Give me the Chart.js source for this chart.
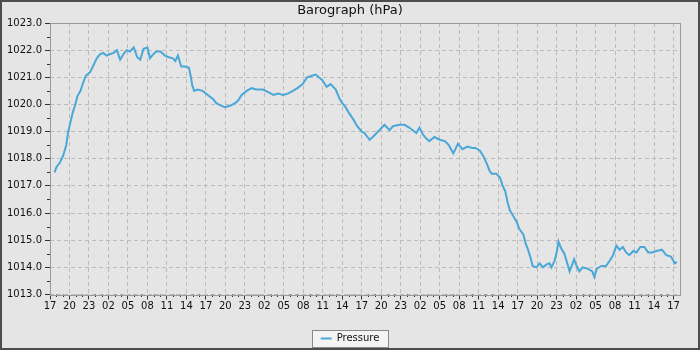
<!DOCTYPE html>
<html>
<head>
<meta charset="utf-8">
<title>Barograph</title>
<script src="https://cdn.jsdelivr.net/npm/chart.js@4.4.1/dist/chart.umd.min.js"></script>
<style>
    html, body { margin: 0; padding: 0; background: #e5e5e5; }
    #grafico { display: block; }
</style>
</head>
<body>
<canvas id="grafico" width="700" height="350"></canvas>
<script>
// hours since 17:00 on the first day
const hours = [
    0.7, 1.0, 1.5, 2.0, 2.5, 2.8, 3.1, 3.5, 3.9, 4.2, 4.7, 5.1, 5.5, 6.2, 6.7, 7.2, 7.7, 8.2, 8.7, 9.2,
    9.8, 10.3, 10.8, 11.3, 11.8, 12.3, 12.9, 13.4, 13.9, 14.4, 15.0, 15.4, 15.9, 16.4, 17.0, 17.7, 18.2, 18.9, 19.3, 19.7,
    20.2, 20.8, 21.4, 21.7, 21.9, 22.2, 22.7, 23.5, 24.3, 25.1, 25.6, 26.4, 26.9, 27.7, 28.5, 29.0, 29.5, 30.3, 31.0, 31.8,
    32.8, 33.6, 34.4, 35.1, 35.9, 36.6, 37.4, 38.1, 38.9, 39.6, 40.2, 40.9, 41.4, 41.9, 42.6, 43.2, 44.0, 44.6, 45.0, 45.5,
    46.0, 46.7, 47.3, 48.0, 48.4, 48.9, 49.2, 49.7, 50.5, 51.5, 52.3, 52.8, 53.8, 54.6, 55.3, 56.4, 56.9, 57.4, 57.9, 58.4,
    59.2, 60.0, 60.8, 61.4, 62.1, 62.8, 63.5, 64.3, 65.0, 65.5, 66.2, 66.7, 67.2, 67.7, 68.0, 68.7, 69.3, 69.7, 70.1, 70.5,
    70.8, 71.3, 71.8, 72.3, 72.9, 73.2, 73.6, 74.0, 74.3, 74.9, 75.4, 75.9, 76.4, 76.9, 77.2, 77.7, 78.1, 78.3, 78.7, 79.2,
    79.7, 80.0, 80.4, 80.7, 81.0, 81.5, 82.0, 82.8, 83.5, 83.8, 84.2, 84.9, 85.6, 86.2, 86.7, 87.2, 87.7, 88.2, 88.7, 89.2,
    89.8, 90.3, 90.9, 91.5, 92.1, 92.7, 93.4, 94.2, 94.9, 95.6, 96.2, 96.5
];

const pressure = [
    1017.5, 1017.7, 1017.85, 1018.1, 1018.5, 1019.0, 1019.3, 1019.7, 1020.0, 1020.3, 1020.5, 1020.8, 1021.05, 1021.2, 1021.45, 1021.7, 1021.85, 1021.9, 1021.8, 1021.85,
    1021.9, 1022.0, 1021.65, 1021.85, 1022.0, 1021.95, 1022.1, 1021.75, 1021.65, 1022.05, 1022.1, 1021.7, 1021.85, 1021.95, 1021.95, 1021.8, 1021.75, 1021.7, 1021.6, 1021.8,
    1021.4, 1021.4, 1021.35, 1021.0, 1020.7, 1020.5, 1020.55, 1020.5, 1020.35, 1020.2, 1020.05, 1019.95, 1019.9, 1019.95, 1020.05, 1020.15, 1020.35, 1020.5, 1020.6, 1020.55,
    1020.55, 1020.45, 1020.35, 1020.4, 1020.35, 1020.4, 1020.5, 1020.6, 1020.75, 1021.0, 1021.05, 1021.1, 1021.0, 1020.9, 1020.65, 1020.75, 1020.55, 1020.2, 1020.05, 1019.9,
    1019.7, 1019.45, 1019.2, 1019.0, 1018.95, 1018.8, 1018.7, 1018.8, 1019.0, 1019.25, 1019.05, 1019.2, 1019.25, 1019.25, 1019.15, 1018.95, 1019.15, 1018.9, 1018.75, 1018.65,
    1018.8, 1018.7, 1018.65, 1018.5, 1018.2, 1018.55, 1018.35, 1018.45, 1018.4, 1018.4, 1018.3, 1018.1, 1017.85, 1017.55, 1017.45, 1017.45, 1017.3, 1017.0, 1016.8, 1016.35,
    1016.1, 1015.9, 1015.7, 1015.4, 1015.2, 1014.9, 1014.65, 1014.35, 1014.05, 1014.0, 1014.15, 1014.0, 1014.1, 1014.15, 1014.0, 1014.25, 1014.65, 1014.95, 1014.7, 1014.5,
    1014.1, 1013.85, 1014.1, 1014.3, 1014.1, 1013.85, 1014.0, 1013.95, 1013.85, 1013.65, 1013.95, 1014.05, 1014.05, 1014.25, 1014.45, 1014.8, 1014.65, 1014.75, 1014.55, 1014.45,
    1014.6, 1014.55, 1014.75, 1014.75, 1014.55, 1014.55, 1014.6, 1014.65, 1014.45, 1014.4, 1014.15, 1014.2
];

const startHour = 17;
const yMin = 1013;
const yMax = 1023;
const xMax = 97;

const fonte = "'DejaVu Sans', sans-serif";

// background, outer frame and legend box
const fundoPlugin = {
    id: "fundo",
    beforeDraw(chart) {
        const { ctx, width, height } = chart;
        ctx.save();
        ctx.fillStyle = "#e5e5e5";
        ctx.fillRect(0, 0, width, height);
        ctx.strokeStyle = "#4d4d4d";
        ctx.lineWidth = 2;
        ctx.strokeRect(1, 1, width - 2, height - 2);

        const hb = chart.legend && chart.legend.legendHitBoxes[0];
        if (hb) {
            const cy = hb.top + hb.height / 2;
            const x0 = Math.round(hb.left - 9) + 0.5;
            const x1 = Math.round(hb.left + hb.width + 9) + 0.5;
            const y0 = Math.round(cy - 8.5) + 0.5;
            const y1 = Math.round(cy + 8.5) + 0.5;
            ctx.fillStyle = "#f4f4f4";
            ctx.fillRect(x0, y0, x1 - x0, y1 - y0);
            ctx.strokeStyle = "#8a8a8a";
            ctx.lineWidth = 1;
            ctx.strokeRect(x0, y0, x1 - x0, y1 - y0);
        }
        ctx.restore();
    },
    afterDraw(chart) {
        const { ctx, chartArea: a, scales } = chart;
        ctx.save();
        ctx.strokeStyle = "#333";
        ctx.lineWidth = 1;
        ctx.beginPath();
        // minor ticks: every hour on x, every 0.5 hPa on y
        for (let h = 1; h < xMax; h++) {
            if (h % 3 === 0) continue;
            const px = Math.round(scales.x.getPixelForValue(h)) + 0.5;
            ctx.moveTo(px, a.bottom);
            ctx.lineTo(px, a.bottom + 2.5);
        }
        for (let v = yMin + 0.5; v < yMax; v += 1) {
            const py = Math.round(scales.y.getPixelForValue(v)) + 0.5;
            ctx.moveTo(a.left - 3, py);
            ctx.lineTo(a.left, py);
        }
        ctx.stroke();

        ctx.strokeStyle = "#9a9a9a";
        ctx.strokeRect(Math.round(a.left) + 0.5, Math.round(a.top) + 0.5,
            Math.round(a.right - a.left), Math.round(a.bottom - a.top));
        ctx.restore();
    }
};

const ctx = document.getElementById("grafico").getContext("2d");

new Chart(ctx, {
    type: "line",
    data: {
        datasets: [{
            label: "Pressure",
            data: hours.map((h, i) => ({ x: h, y: pressure[i] })),
            borderColor: "#4aa8d8",
            backgroundColor: "#4aa8d8",
            borderWidth: 2,
            pointRadius: 0,
            tension: 0,
            fill: false
        }]
    },
    options: {
        responsive: false,
        animation: false,
        layout: { padding: { left: 0, right: 0, top: 0, bottom: -3.5 } },
        plugins: {
            title: {
                display: true,
                text: "Barograph (hPa)",
                color: "#111",
                font: { family: fonte, size: 13, weight: "normal" },
                padding: { top: 3.2, bottom: 4.2 }
            },
            legend: {
                display: true,
                position: "bottom",
                labels: {
                    boxWidth: 11,
                    boxHeight: 2,
                    padding: 6,
                    color: "#111",
                    font: { family: fonte, size: 10 },
                    generateLabels: chart => Chart.defaults.plugins.legend.labels
                        .generateLabels(chart).map(l => ({ ...l, lineWidth: 0 }))
                }
            },
            tooltip: { enabled: false }
        },
        scales: {
            x: {
                type: "linear",
                min: 0,
                max: xMax,
                afterFit: s => { s.height = 33; },
                ticks: {
                    stepSize: 3,
                    autoSkip: false,
                    maxRotation: 0,
                    includeBounds: false,
                    padding: 1,
                    color: "#111",
                    font: { family: fonte, size: 10 },
                    callback: v => String((startHour + v) % 24).padStart(2, "0")
                },
                grid: {
                    color: "#bcbcbc",
                    lineWidth: 1,
                    tickLength: 5,
                    tickColor: "#333",
                    tickBorderDash: []
                },
                border: { display: false, dash: [4, 3] }
            },
            y: {
                min: yMin,
                max: yMax,
                afterFit: s => { s.width = 50; },
                ticks: {
                    stepSize: 1,
                    padding: 3,
                    color: "#111",
                    font: { family: fonte, size: 10 },
                    callback: v => v.toFixed(1)
                },
                grid: {
                    color: "#bcbcbc",
                    lineWidth: 1,
                    tickLength: 5,
                    tickColor: "#333",
                    tickBorderDash: []
                },
                border: { display: false, dash: [4, 3] }
            },
            // empty axis to keep the right margin
            y2: {
                position: "right",
                display: true,
                afterFit: s => { s.width = 20; },
                ticks: { display: false },
                grid: { display: false, drawOnChartArea: false },
                border: { display: false }
            }
        }
    },
    plugins: [fundoPlugin]
});
</script>
</body>
</html>
